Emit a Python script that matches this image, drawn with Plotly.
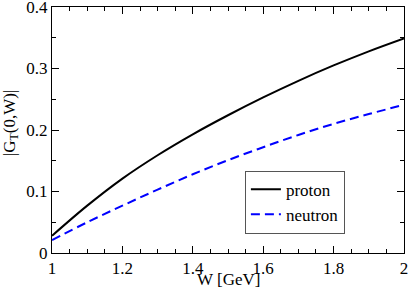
import plotly.graph_objects as go

W = [1.0, 1.1, 1.2, 1.3, 1.4, 1.5, 1.6, 1.7, 1.8, 1.9, 2.0]
proton = [0.028, 0.077, 0.121, 0.159, 0.193, 0.224, 0.253, 0.280, 0.305, 0.328, 0.349]
neutron = [0.021, 0.050, 0.077, 0.103, 0.128, 0.151, 0.172, 0.192, 0.210, 0.226, 0.241]

xticks = [1, 1.2, 1.4, 1.6, 1.8, 2]
xticktext = ["1", "1.2", "1.4", "1.6", "1.8", "2"]
yticks = [0, 0.1, 0.2, 0.3, 0.4]
yticktext = ["0", "0.1", "0.2", "0.3", "0.4"]

font = "'Liberation Serif', 'Times New Roman', Times, serif"
fs = 17

fig = go.Figure()
fig.add_trace(go.Scatter(x=W, y=proton, mode="lines", name="proton",
                         line=dict(color="black", width=2, shape="spline")))
fig.add_trace(go.Scatter(x=W, y=neutron, mode="lines", name="neutron",
                         line=dict(color="#0000ff", width=2, dash="9px,5px", shape="spline")))

axis_common = dict(
    showgrid=False, zeroline=False, showline=True, linecolor="black", linewidth=1,
    mirror="allticks", ticks="inside", ticklen=7, tickcolor="black", tickwidth=1,
    tickfont=dict(family=font, size=fs, color="black"),
    ticklabeloverflow="allow", automargin=False,
)

fig.update_layout(
    width=409, height=291,
    margin=dict(l=52, r=5, t=7, b=38),
    paper_bgcolor="white", plot_bgcolor="white",
    font=dict(family=font, size=fs, color="black"),
    xaxis=dict(range=[0.9999, 2.0001], tickvals=xticks, ticktext=xticktext,
               minor=dict(dtick=0.05, tick0=1, ticks="inside", ticklen=4, tickcolor="black"),
               **axis_common),
    yaxis=dict(range=[0, 0.40005], tickvals=yticks, ticktext=yticktext,
               minor=dict(dtick=0.05, tick0=0, ticks="inside", ticklen=4, tickcolor="black"),
               **axis_common),
    annotations=[
        dict(text="W [GeV]", xref="paper", yref="paper", x=0.5, y=-0.062,
             xanchor="center", yanchor="top", showarrow=False,
             font=dict(family=font, size=fs, color="black")),
        dict(text="|G<sub>T</sub>(0,W)|", xref="paper", yref="paper", x=-0.118, y=0.53,
             xanchor="center", yanchor="middle", showarrow=False, textangle=-90,
             font=dict(family=font, size=fs, color="black")),
    ],
    showlegend=True,
    legend=dict(x=0.548, y=0.335, xanchor="left", yanchor="top",
                bordercolor="#555555", borderwidth=1, bgcolor="white",
                font=dict(family=font, size=17, color="black"),
                tracegroupgap=0, itemwidth=30),
)

fig.write_html("out.html", config={"displayModeBar": False},
               post_script="document.body.style.margin='0px';document.body.style.padding='0px';")
